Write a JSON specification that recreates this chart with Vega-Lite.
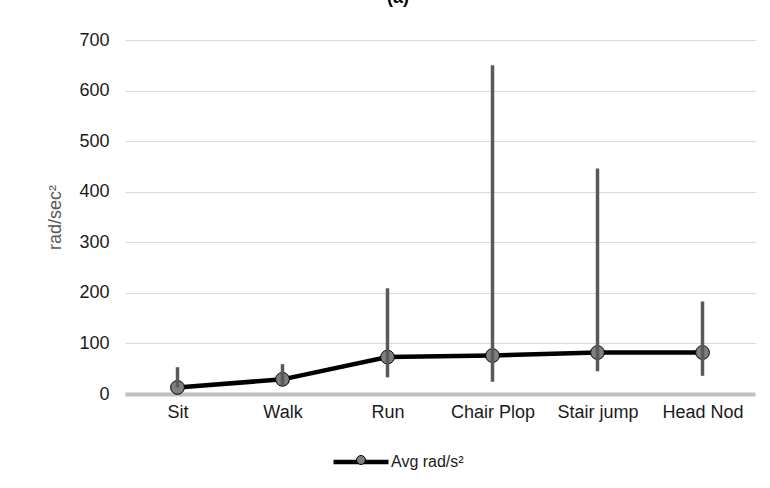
{
  "$schema": "https://vega.github.io/schema/vega-lite/v6.json",
  "width": 630,
  "height": 354,
  "autosize": {"type": "none"},
  "padding": {"left": 125, "top": 40, "right": 15, "bottom": 94},
  "background": "white",
  "config": {
    "font": "Liberation Sans",
    "view": {"stroke": null}
  },
  "title": {"text": "(a)", "fontSize": 18, "fontWeight": "bold", "font": "Liberation Sans", "color": "#000000", "offset": 24, "dx": -42, "anchor": "middle"},
  "data": {
    "values": [
      {"activity": "Sit", "avg": 13, "low": 13, "high": 53},
      {"activity": "Walk", "avg": 29, "low": 18, "high": 59},
      {"activity": "Run", "avg": 73, "low": 33, "high": 209},
      {"activity": "Chair Plop", "avg": 76, "low": 24, "high": 650},
      {"activity": "Stair jump", "avg": 82, "low": 45, "high": 446},
      {"activity": "Head Nod", "avg": 82, "low": 36, "high": 183}
    ]
  },
  "encoding": {
    "x": {
      "field": "activity",
      "type": "nominal",
      "sort": null,
      "scale": {"type": "point", "padding": 0.5},
      "axis": {
        "title": null,
        "labelAngle": 0,
        "labelFontSize": 18,
        "labelColor": "#1a1a1a",
        "labelPadding": 9,
        "ticks": false,
        "domainColor": "#bfbfbf",
        "domainWidth": 4,
        "grid": false
      }
    }
  },
  "layer": [
    {
      "mark": {"type": "line", "strokeWidth": 4.5},
      "encoding": {
        "y": {
          "field": "avg",
          "type": "quantitative",
          "scale": {"domain": [0, 700], "nice": false},
          "axis": {
            "title": "rad/sec²",
            "titleFontSize": 18,
            "titleFontWeight": "normal",
            "titleColor": "#595959",
            "titlePadding": 14,
            "values": [0, 100, 200, 300, 400, 500, 600, 700],
            "labelFontSize": 18,
            "labelColor": "#1a1a1a",
            "labelPadding": 16,
            "domain": false,
            "ticks": false,
            "gridColor": "#d9d9d9",
            "gridWidth": 1.2
          }
        },
        "stroke": {
          "datum": "Avg rad/s²",
          "type": "nominal",
          "scale": {"range": ["#000000"]},
          "legend": {
            "title": null,
            "orient": "none",
            "legendX": 206,
            "legendY": 392,
            "symbolType": "stroke",
            "symbolSize": 3025,
            "symbolStrokeWidth": 4.5,
            "labelFontSize": 16,
            "labelColor": "#1a1a1a",
            "labelOffset": 0
          }
        }
      }
    },
    {
      "mark": {"type": "circle", "size": 190, "stroke": "#000000", "strokeWidth": 1, "opacity": 1},
      "encoding": {
        "y": {"field": "avg", "type": "quantitative"},
        "fill": {
          "datum": "Avg rad/s² ",
          "type": "nominal",
          "scale": {"range": ["#7f7f7f"]},
          "legend": {
            "title": null,
            "orient": "none",
            "legendX": 228,
            "legendY": 412,
            "symbolType": "circle",
            "symbolSize": 80,
            "symbolStrokeColor": "#000000",
            "symbolStrokeWidth": 1,
            "symbolOpacity": 1,
            "labelExpr": "''",
            "labelFontSize": 16
          }
        }
      }
    },
    {
      "mark": {"type": "rule", "color": "#595959", "strokeWidth": 3.5},
      "encoding": {
        "y": {"field": "low", "type": "quantitative"},
        "y2": {"field": "high"}
      }
    }
  ]
}
